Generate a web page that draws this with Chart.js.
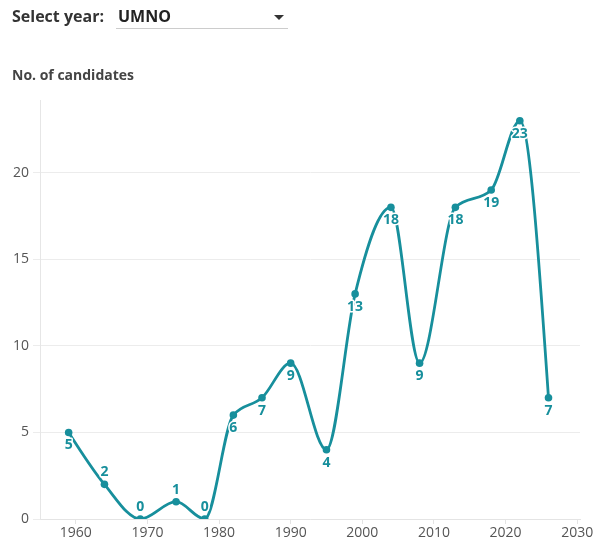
<!DOCTYPE html>
<html>
<head>
<meta charset="utf-8">
<script src="https://cdn.jsdelivr.net/npm/chart.js@4"></script>
<style>
  body { margin: 0; background: #fff; font-family: "Open Sans", sans-serif; }
  #wrap { position: relative; width: 603px; height: 553px; }
  #chart { position: absolute; left: 0; top: 0; }
  .sel { position: absolute; left: 12px; top: 5px; font-weight: 700; font-size: 16px; color: #333; }
  .box { position: absolute; left: 116px; top: 6px; width: 172px; height: 22px; border-bottom: 1px solid #ccc; }
  .box span { position: absolute; left: 2px; top: -1px; font-weight: 700; font-size: 16px; color: #222; }
  .box i { position: absolute; right: 4px; top: 9px; width: 0; height: 0;
    border-left: 5px solid transparent; border-right: 5px solid transparent; border-top: 5px solid #333; }
  .ytitle { position: absolute; left: 12px; top: 65px; font-weight: 700; font-size: 14px; color: #444; }
</style>
</head>
<body>
<div id="wrap">
  <canvas id="chart" width="603" height="553"></canvas>
  <div class="sel">Select year:</div>
  <div class="box"><span>UMNO</span><i></i></div>
  <div class="ytitle">No. of candidates</div>
</div>
<script>
// election years and UMNO candidates
const years = [1959, 1964, 1969, 1974, 1978, 1982, 1986, 1990, 1995, 1999, 2004, 2008, 2013, 2018, 2022, 2026];
const candidates = [5, 2, 0, 1, 0, 6, 7, 9, 4, 13, 18, 9, 18, 19, 23, 7];
const labelAbove = [false, true, true, true, true, false, false, false, false, false, false, false, false, false, false, false];
const yTicks = [0, 5, 10, 15, 20];
const xTicks = [1960, 1970, 1980, 1990, 2000, 2010, 2020, 2030];

const teal = "#178f9c";
const fontFam = "'Open Sans', sans-serif";

// d3-style monotoneX control points (chart.js monotone is a bit different)
const sign = (v) => (v < 0 ? -1 : 1);
const monotoneX = {
  id: "monotoneX",
  beforeDatasetsDraw: (chart) => {
    const meta = chart.getDatasetMeta(0);
    const pts = meta.data;
    const n = pts.length;
    const t = new Array(n).fill(0);
    for (let i = 1; i < n - 1; i++) {
      const h0 = pts[i].x - pts[i - 1].x, h1 = pts[i + 1].x - pts[i].x;
      const s0 = (pts[i].y - pts[i - 1].y) / h0, s1 = (pts[i + 1].y - pts[i].y) / h1;
      const p = (s0 * h1 + s1 * h0) / (h0 + h1);
      t[i] = (sign(s0) + sign(s1)) * Math.min(Math.abs(s0), Math.abs(s1), 0.5 * Math.abs(p)) || 0;
    }
    const h = pts[1].x - pts[0].x;
    t[0] = (3 * (pts[1].y - pts[0].y) / h - t[1]) / 2;
    const hl = pts[n - 1].x - pts[n - 2].x;
    t[n - 1] = (3 * (pts[n - 1].y - pts[n - 2].y) / hl - t[n - 2]) / 2;
    for (let i = 0; i < n; i++) {
      const pt = pts[i];
      const dxPrev = i > 0 ? (pt.x - pts[i - 1].x) / 3 : 0;
      const dxNext = i < n - 1 ? (pts[i + 1].x - pt.x) / 3 : 0;
      pt.cp1x = pt.x - dxPrev;
      pt.cp1y = pt.y - dxPrev * t[i];
      pt.cp2x = pt.x + dxNext;
      pt.cp2y = pt.y + dxNext * t[i];
    }
    meta.dataset._pointsUpdated = true;
    meta.dataset._path = undefined;
  },
};

const pointLabels = {
  id: "pointLabels",
  afterDatasetsDraw: (chart) => {
    const ctx = chart.ctx;
    const meta = chart.getDatasetMeta(0);
    ctx.save();
    ctx.font = "bold 14px " + fontFam;
    ctx.textAlign = "center";
    ctx.textBaseline = "middle";
    ctx.lineJoin = "round";
    meta.data.forEach((pt, i) => {
      const y = labelAbove[i] ? pt.y - 12 : pt.y + 13;
      ctx.lineWidth = 3;
      ctx.strokeStyle = "#fff";
      ctx.strokeText(candidates[i], pt.x, y);
      ctx.fillStyle = teal;
      ctx.fillText(candidates[i], pt.x, y);
    });
    ctx.restore();
  },
};

new Chart(document.getElementById("chart"), {
  type: "line",
  data: {
    datasets: [
      {
        data: years.map((y, i) => ({ x: y, y: candidates[i] })),
        borderColor: teal,
        backgroundColor: teal,
        borderWidth: 2.8,
        cubicInterpolationMode: "monotone",
        pointRadius: 3.8,
        pointBorderWidth: 0,
        fill: false,
      },
    ],
  },
  options: {
    responsive: false,
    animation: false,
    layout: { padding: { top: 100, right: 23, left: 0, bottom: 0 } },
    scales: {
      x: {
        type: "linear",
        min: 1955,
        max: 2030.4,
        afterBuildTicks: (axis) => { axis.ticks = xTicks.map((v) => ({ value: v })); },
        afterFit: (axis) => { axis.height = 34; },
        ticks: {
          callback: (v) => String(v),
          color: "#555",
          font: { size: 14, family: fontFam },
          padding: 1,
          maxRotation: 0,
        },
        grid: { drawOnChartArea: false, drawTicks: true, tickLength: 5, color: "#e4e4e4" },
        border: { color: "#e4e4e4" },
      },
      y: {
        min: 0,
        max: 24.2,
        afterBuildTicks: (axis) => { axis.ticks = yTicks.map((v) => ({ value: v })); },
        afterFit: (axis) => { axis.width = 40; },
        ticks: {
          color: "#555",
          font: { size: 14, family: fontFam },
          padding: 4,
        },
        grid: { color: "#ececec", tickLength: 7 },
        border: { color: "#e6e6e6" },
      },
    },
    plugins: {
      legend: { display: false },
      tooltip: { enabled: false },
    },
  },
  plugins: [monotoneX, pointLabels],
});
</script>
</body>
</html>
